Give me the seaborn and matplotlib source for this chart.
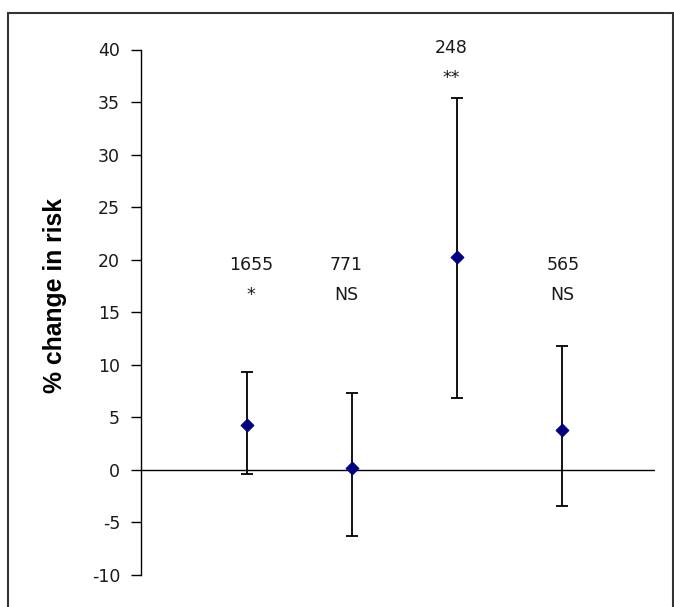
import matplotlib
matplotlib.use("Agg")
import matplotlib.pyplot as plt
import matplotlib.font_manager as fm
import seaborn as sns
import pandas as pd
from matplotlib.lines import Line2D

# Data
groups = ["A", "B", "C", "D"]
estimate = [4.3, 0.2, 20.3, 3.8]
lower = [-0.4, -6.3, 6.8, -3.4]
upper = [9.3, 7.3, 35.4, 11.8]
n_labels = ["1655", "771", "248", "565"]
sig_labels = ["*", "NS", "**", "NS"]
yticks = [-10, -5, 0, 5, 10, 15, 20, 25, 30, 35, 40]

df = pd.DataFrame({"group": groups, "est": estimate, "lo": lower, "hi": upper,
                   "pos": range(len(groups))})

sns.set_style("white")
plt.rcParams["font.family"] = ["DejaVu Sans"]

# bold Arial-like font for the axis title
bold_file = None
for f in fm.findSystemFonts():
    if f.endswith("LiberationSans-Bold.ttf"):
        bold_file = f
        break
if bold_file:
    label_fp = fm.FontProperties(fname=bold_file, size=17.8)
else:
    label_fp = fm.FontProperties(family="DejaVu Sans", weight="bold", size=16)

fig = plt.figure(figsize=(6.74, 6.07), dpi=100)
W, H = 674, 607
L, R, T, B = 141, 655, 49.5, 575
ax = fig.add_axes([L / W, 1 - B / H, (R - L) / W, (B - T) / H])

# error bars
ax.errorbar(df["pos"], df["est"],
            yerr=[df["est"] - df["lo"], df["hi"] - df["est"]],
            fmt="none", ecolor="black", elinewidth=1.3, capsize=4.3, capthick=1.3, zorder=2)
sns.scatterplot(data=df, x="pos", y="est", marker="D", s=45, color="#000080",
                edgecolor="#000080", ax=ax, zorder=3, legend=False)

ax.axhline(0, color="black", lw=1.0, zorder=1)

ax.set_xlim(-1.007, 3.888)
ax.set_ylim(-10, 40)
ax.set_yticks(yticks)
ax.set_yticklabels([str(t) for t in yticks], fontsize=12.5, color="#1a1a1a")
ax.set_xticks([])
ax.set_xlabel("")
ax.set_ylabel("% change in risk", fontproperties=label_fp, color="black")
ax.yaxis.set_label_coords((67 - L) / (R - L), 0.531)
ax.tick_params(axis="y", direction="out", length=7, width=1, color="black", left=True, pad=8)

for s in ["top", "right", "bottom"]:
    ax.spines[s].set_visible(False)
ax.spines["left"].set_color("black")
ax.spines["left"].set_linewidth(1.0)

# annotations (two lines each)
offsets = [0.04, -0.05, -0.05, 0.01]
for i, (n, sig) in enumerate(zip(n_labels, sig_labels)):
    y1, y2 = (39.63, 36.77) if i == 2 else (19.03, 16.18)
    ax.text(i + offsets[i], y1, n, ha="center", va="baseline",
            fontsize=12.5, color="#1a1a1a", clip_on=False)
    ax.text(i + offsets[i], y2, sig, ha="center", va="baseline",
            fontsize=12.5, color="#1a1a1a", clip_on=False)

# frame around the chart area
frame_kw = dict(transform=fig.transFigure, color="#333333", lw=1.5)
fig.lines.append(Line2D([7.5 / W, 7.5 / W], [0, 1 - 12.7 / H], **frame_kw))
fig.lines.append(Line2D([7.5 / W, 1.0], [1 - 12.7 / H, 1 - 12.7 / H], **frame_kw))
fig.lines.append(Line2D([672.5 / W, 672.5 / W], [0, 1 - 12.7 / H], **frame_kw))

fig.savefig("out.png", dpi=100)
